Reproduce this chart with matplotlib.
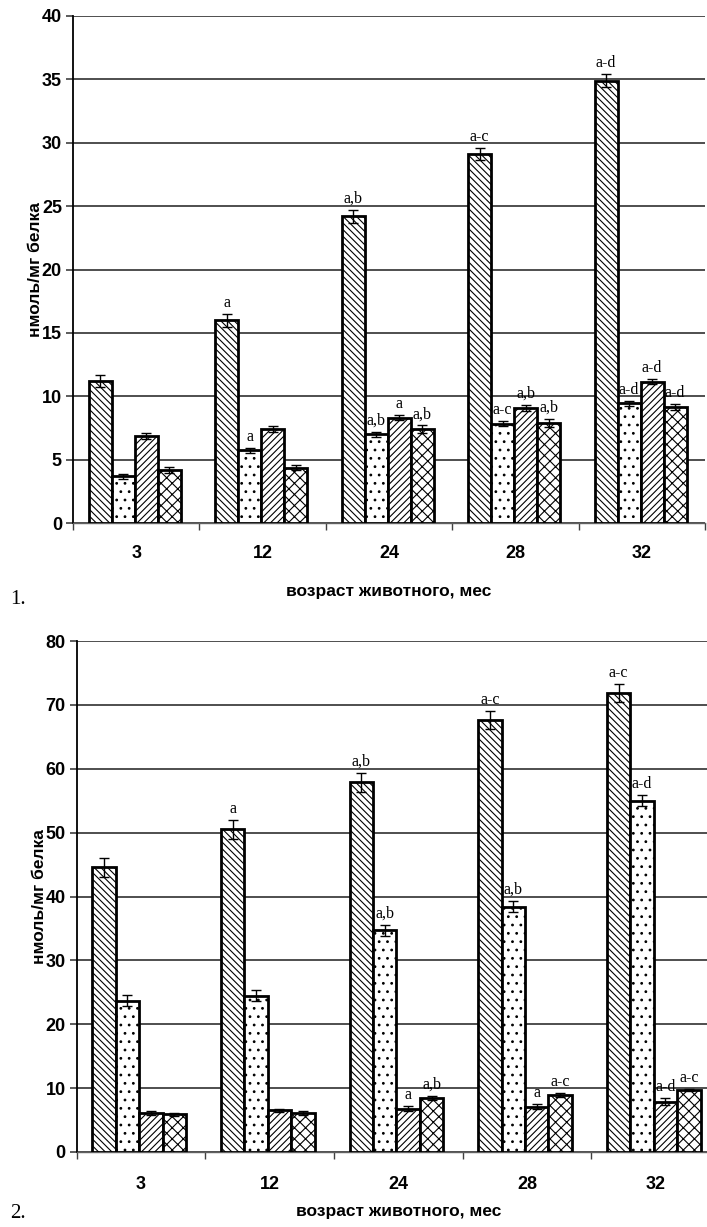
import matplotlib
matplotlib.use("Agg")
import matplotlib.pyplot as plt
import numpy as np
from matplotlib import font_manager

ages = ["3", "12", "24", "28", "32"]

# Chart 1 series
c1_s1 = [11.2, 16.0, 24.2, 29.1, 34.9]
c1_s2 = [3.7, 5.75, 7.0, 7.85, 9.45]
c1_s3 = [6.85, 7.4, 8.3, 9.05, 11.15]
c1_s4 = [4.2, 4.35, 7.4, 7.9, 9.15]
c1_e1 = [0.5, 0.5, 0.5, 0.5, 0.5]
c1_e2 = [0.2, 0.2, 0.2, 0.2, 0.2]
c1_e3 = [0.25, 0.25, 0.2, 0.25, 0.2]
c1_e4 = [0.25, 0.2, 0.3, 0.3, 0.25]
c1_lab1 = ["", "a", "a,b", "a-c", "a-d"]
c1_lab2 = ["", "a", "a,b", "a-c", "a-d"]
c1_lab3 = ["", "", "a", "a,b", "a-d"]
c1_lab4 = ["", "", "a,b", "a,b", "a-d"]

# Chart 2 series
c2_s1 = [44.6, 50.5, 57.9, 67.6, 71.8]
c2_s2 = [23.7, 24.5, 34.7, 38.4, 55.0]
c2_s3 = [6.1, 6.5, 6.8, 7.1, 7.9]
c2_s4 = [5.9, 6.1, 8.5, 8.9, 9.7]
c2_e1 = [1.5, 1.5, 1.5, 1.4, 1.4]
c2_e2 = [0.9, 0.9, 0.9, 0.9, 0.9]
c2_e3 = [0.3, 0.3, 0.4, 0.4, 0.5]
c2_e4 = [0.2, 0.3, 0.3, 0.3, 0.2]
c2_lab1 = ["", "a", "a,b", "a-c", "a-c"]
c2_lab2 = ["", "", "a,b", "a,b", "a-d"]
c2_lab3 = ["", "", "a", "a", "a-d"]
c2_lab4 = ["", "", "a,b", "a-c", "a-c"]

names = {f.name for f in font_manager.fontManager.ttflist}
narrow = "Liberation Sans Narrow" if "Liberation Sans Narrow" in names else "Liberation Sans"
sans = "Liberation Sans"
serif = "Liberation Serif"

plt.rcParams["hatch.linewidth"] = 0.8

hatches = ["\\\\\\\\\\", "..", "/////", "xxx"]

fig = plt.figure(figsize=(7.07, 12.27), dpi=100)


def draw(ax, series, errs, labels, ymax, ystep, offset, xpad):
    n = len(ages)
    x = np.arange(n)
    w = 0.182
    for i, (vals, err, lab, h) in enumerate(zip(series, errs, labels, hatches)):
        pos = x + (i - 1.5) * w + offset
        ax.bar(pos, vals, width=w, facecolor="white", edgecolor="black",
               linewidth=2.0, hatch=h, zorder=3)
        ax.errorbar(pos, vals, yerr=err, fmt="none", ecolor="black",
                    elinewidth=1.0, capsize=3.5, capthick=1.0, zorder=4)
        for p, v, e, t in zip(pos, vals, err, lab):
            if t:
                ax.text(p, v + e + ymax * 0.006, t, ha="center", va="bottom",
                        fontsize=11.5, family=serif, zorder=5)
    ax.set_xlim(-0.5, n - 0.5)
    ax.set_ylim(0, ymax)
    ax.set_yticks(np.arange(0, ymax + 0.1, ystep))
    ax.yaxis.grid(True, color="#404040", linewidth=1.3, zorder=0)
    ax.set_axisbelow(True)
    ax.set_xticks(x)
    ax.set_xticklabels(ages)
    ax.set_xticks(np.arange(-0.5, n + 0.5, 1.0), minor=True)
    ax.tick_params(axis="x", which="major", length=0, pad=xpad)
    ax.tick_params(axis="x", which="minor", length=5, width=1, color="#404040")
    ax.tick_params(axis="y", length=5, width=1.2, color="#404040", pad=3)
    for lbl in ax.get_xticklabels() + ax.get_yticklabels():
        lbl.set_family(narrow)
        lbl.set_fontweight("bold")
        lbl.set_fontsize(13)
    ax.spines["top"].set_visible(False)
    ax.spines["right"].set_visible(False)
    ax.spines["left"].set_color("black")
    ax.spines["left"].set_linewidth(1.3)
    ax.spines["bottom"].set_color("#606060")
    ax.spines["bottom"].set_linewidth(1.0)
    ax.set_ylabel("нмоль/мг белка", family=sans, fontweight="bold", fontsize=12.5, labelpad=-1)


W, H = 707.0, 1227.0
ax1 = fig.add_axes([73 / W, (H - 523) / H, 632 / W, 507 / H])
draw(ax1, [c1_s1, c1_s2, c1_s3, c1_s4], [c1_e1, c1_e2, c1_e3, c1_e4],
     [c1_lab1, c1_lab2, c1_lab3, c1_lab4], 40, 5, -0.01, 16)
ax1.set_xlabel("возраст животного, мес", family=sans, fontweight="bold", fontsize=12.5, labelpad=16)

ax2 = fig.add_axes([76.7 / W, (H - 1152) / H, 643.3 / W, 511 / H])
draw(ax2, [c2_s1, c2_s2, c2_s3, c2_s4], [c2_e1, c2_e2, c2_e3, c2_e4],
     [c2_lab1, c2_lab2, c2_lab3, c2_lab4], 80, 10, -0.015, 17)
ax2.set_xlabel("возраст животного, мес", family=sans, fontweight="bold", fontsize=12.5, labelpad=8)

fig.text(10 / W, 1 - 600 / H, "1.", family=serif, fontsize=15, va="center", ha="left")
fig.text(10 / W, 1 - 1213 / H, "2.", family=serif, fontsize=15, va="center", ha="left")

fig.savefig("out.png", dpi=100, facecolor="white")
